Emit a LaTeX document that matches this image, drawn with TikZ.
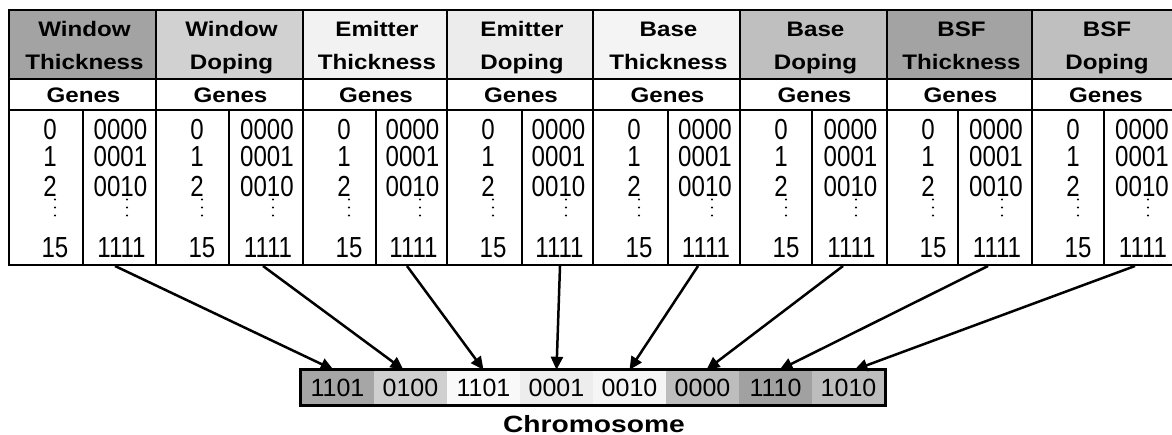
\documentclass[tikz,border=0pt]{standalone}
\usepackage{fontspec}
\setmainfont{Liberation Sans}
\newfontfamily\hdfont[FakeStretch=1.15]{Liberation Sans}
\newfontfamily\numfont[FakeStretch=0.83]{Liberation Sans}
\newfontfamily\chfont[FakeStretch=1.2]{Liberation Sans}
\usetikzlibrary{arrows.meta}
\definecolor{hd1}{gray}{0.64}
\definecolor{hd2}{gray}{0.82}
\definecolor{hd3}{gray}{0.95}
\definecolor{hd4}{gray}{0.925}
\definecolor{hd5}{gray}{0.955}
\definecolor{hd6}{gray}{0.75}
\definecolor{hd7}{gray}{0.64}
\definecolor{hd8}{gray}{0.75}
\definecolor{cc1}{gray}{0.65}
\definecolor{cc2}{gray}{0.81}
\definecolor{cc3}{gray}{0.975}
\definecolor{cc4}{gray}{0.93}
\definecolor{cc5}{gray}{0.96}
\definecolor{cc6}{gray}{0.74}
\definecolor{cc7}{gray}{0.63}
\definecolor{cc8}{gray}{0.74}
\begin{document}
\begin{tikzpicture}[x=1pt,y=-1pt,
  hdtxt/.style={font=\hdfont\bfseries\fontsize{21}{24}\selectfont, inner sep=0pt, anchor=base},
  num/.style={font=\numfont\fontsize{29}{29}\selectfont, inner sep=0pt, anchor=base},
  cell/.style={font=\fontsize{25}{27}\selectfont, inner sep=0pt, minimum width=73pt, minimum height=35pt, draw=none},
  chrom/.style={font=\chfont\bfseries\fontsize{23.5}{26}\selectfont, inner sep=0pt, anchor=base},
  thick border/.style={line width=2.8pt},
  row line/.style={line width=2.3pt},
  sub line/.style={line width=1.5pt},
  arr/.style={line width=2.5pt, -{Triangle[length=13pt,width=12pt]}},
  ddot/.style={fill=black}]
\useasboundingbox (0,0) rectangle (1172,435);
\clip (0,0) rectangle (1172,435);
% table columns
\foreach \i/\xa/\xs/\xb/\la/\lb in {
 1/9/83/156/Window/Thickness,
 2/156/229/303/Window/Doping,
 3/303/376/447/Emitter/Thickness,
 4/447/522/593/Emitter/Doping,
 5/593/668/740/Base/Thickness,
 6/740/812/887/Base/Doping,
 7/887/958/1032/BSF/Thickness,
 8/1032/1104/1178/BSF/Doping}{
  \fill[hd\i] (\xa,10) rectangle (\xb,79);
  \node[hdtxt] (ha\i) at ({(\xa+\xb)/2+2},37) {\la};
  \node[hdtxt] (hb\i) at ({(\xa+\xb)/2+2},70) {\lb};
  \node[hdtxt] (g\i) at ({(\xa+\xb)/2+1},103) {Genes};
  \node[num] (l\i a) at ({\xa+41},139.5) {0};
  \node[num] (l\i b) at ({\xa+41},167) {1};
  \node[num] (l\i c) at ({\xa+41},196.5) {2};
  \node[num] (l\i d) at ({\xa+46},258) {15};
  \node[num] (r\i a) at ({(\xs+\xb)/2+1},139.5) {0000};
  \node[num] (r\i b) at ({(\xs+\xb)/2+1},167) {0001};
  \node[num] (r\i c) at ({(\xs+\xb)/2+1},196.5) {0010};
  \node[num] (r\i d) at ({(\xs+\xb)/2+2},258) {1111};
  \foreach \yy in {199.5,207.5,215.5}{
    \fill[ddot] ({\xa+46},\yy) circle (1.1pt);
    \fill[ddot] ({\xs+44},\yy) circle (1.1pt);
  }
  \draw[sub line] (\xs,110) -- (\xs,265);
  \draw[thick border] (\xa,10) -- (\xa,265);
}
\draw[row line] (9,79) -- (1178,79);
\draw[row line] (9,110) -- (1178,110);
\draw[thick border] (9,10) rectangle (1178,265);
% chromosome
\foreach \i/\v in {1/1101,2/0100,3/1101,4/0001,5/0010,6/0000,7/1110,8/1010}{
  \node[cell, fill=cc\i] (c\i) at ({301+73*(\i-0.5)},387.5) {\v};
}
\draw[thick border] (c1.north west) rectangle (c8.south east);
\node[chrom] (lab) at (594,432) {Chromosome};
% arrows
\foreach \i/\sx/\dx in {1/115/-4,2/263/-7,3/407/0,4/560/0,5/698/0,6/843/4,7/988/4,8/1135/6}{
  \coordinate (s\i) at (\sx,266);
  \draw[arr] (s\i) -- ([xshift=\dx pt]c\i.north);
}
\end{tikzpicture}
\end{document}
